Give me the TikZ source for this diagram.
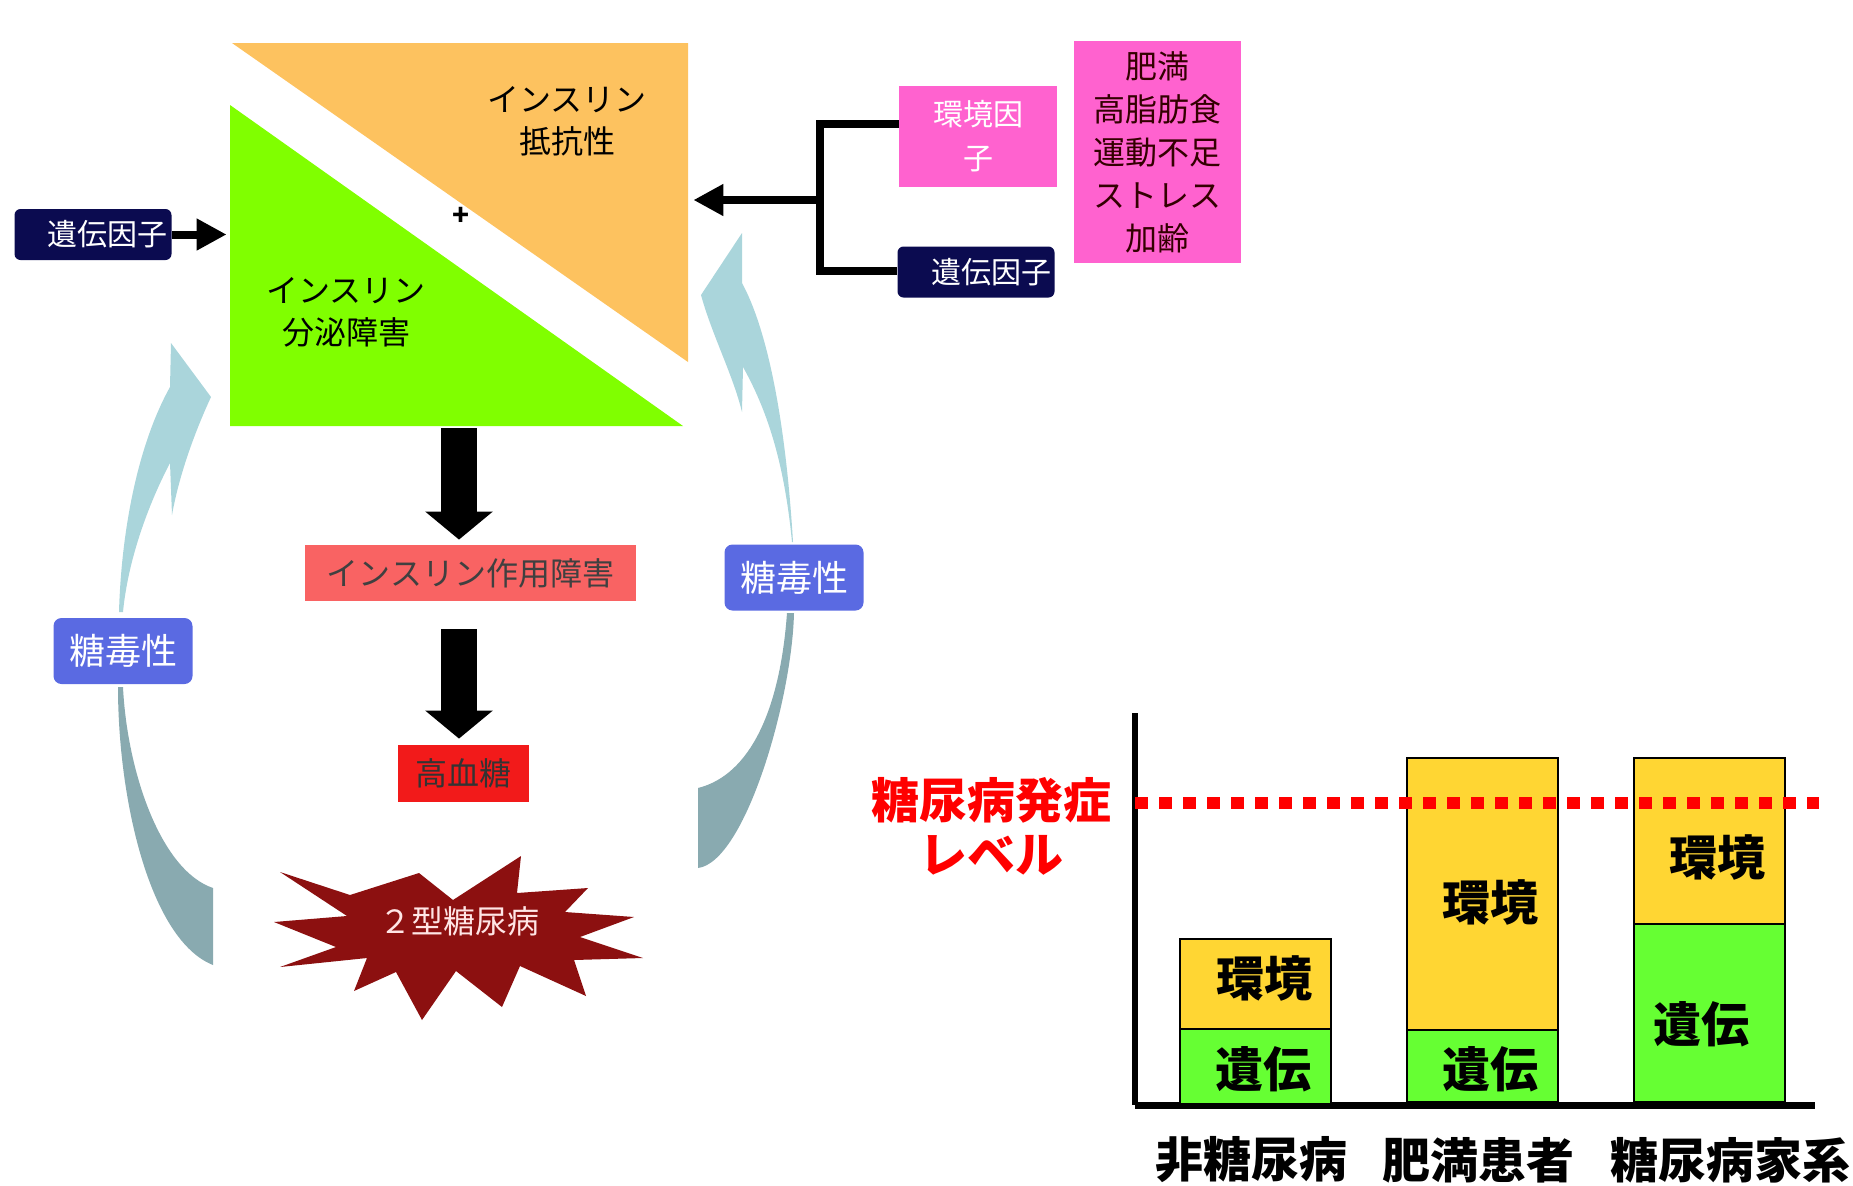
\documentclass[tikz,border=0pt]{standalone}
\usepackage{fontspec}
\setmainfont{Noto Sans CJK JP}
\usetikzlibrary{arrows.meta}

\definecolor{resist}{HTML}{fdc25f}
\definecolor{secrete}{HTML}{80ff00}
\definecolor{gene-navy}{HTML}{0b0b50}
\definecolor{factor-pink}{HTML}{ff62cf}
\definecolor{action-red}{HTML}{f96363}
\definecolor{glucose-red}{HTML}{f21a1a}
\definecolor{burst-red}{HTML}{8c1010}
\definecolor{toxic-blue}{HTML}{5a6ae2}
\definecolor{swirl-light}{HTML}{aad5db}
\definecolor{swirl-dark}{HTML}{89aab0}
\definecolor{bar-env}{HTML}{ffd633}
\definecolor{bar-gene}{HTML}{66ff33}

\tikzstyle{plain-text}=[inner sep=0pt, align=center, font=\fontsize{16pt}{21pt}\selectfont]
\tikzstyle{gene-box}=[fill=gene-navy, rounded corners=3pt, minimum width=78.5pt, minimum height=25.5pt, inner sep=0pt]
\tikzstyle{toxic-box}=[fill=toxic-blue, rounded corners=4pt, minimum width=69.5pt, minimum height=33pt, inner sep=0pt]
\tikzstyle{link}=[line width=4pt]
\tikzstyle{link-tip}=[link, -{Triangle[width=15pt,length=15pt]}]
\tikzstyle{fat-arrow}=[line width=18pt, -{Triangle[width=33pt,length=14pt]}]
\tikzstyle{bar}=[draw=black, line width=1pt, minimum width=75.5pt, inner sep=0pt]
\tikzstyle{bar-text}=[inner sep=0pt, font=\fontsize{24pt}{24pt}\selectfont\bfseries]

\begin{document}
\begin{tikzpicture}[x=0.5pt, y=-0.5pt]
      \useasboundingbox (0,0) rectangle (1853,1185);

      % swirling arrows
      \fill[swirl-light] (171,343) -- (211,397) .. controls (198,425) and (180,470) .. (172,515)
            -- (170,463) .. controls (148,505) and (128,560) .. (123,612) -- (119,612)
            .. controls (121,540) and (135,450) .. (170,387) -- cycle;
      \fill[swirl-dark] (118,687) -- (123,687) .. controls (127,770) and (160,870) .. (213,888)
            -- (213,965) .. controls (150,940) and (118,800) .. (118,687) -- cycle;
      \fill[swirl-light] (742,233) -- (742,283) .. controls (765,325) and (785,410) .. (793,542)
            -- (792,542) .. controls (785,470) and (770,415) .. (743,367) -- (742,412)
            .. controls (733,375) and (712,335) .. (701,295) -- cycle;
      \fill[swirl-dark] (787,613) -- (794,613) .. controls (792,700) and (745,862) .. (698,868)
            -- (698,788) .. controls (750,775) and (780,710) .. (787,613) -- cycle;

      % the square
      \node (square) at (459,234.5) [inner sep=0pt, minimum width=229pt, minimum height=191.5pt] {};
      \fill[resist] (232,43) -- (688,43) -- (688,362) -- cycle;
      \fill[secrete] (230,105) -- (683,426) -- (230,426) -- cycle;
      \node (resist-text) at (567,121) [plain-text] {インスリン\\抵抗性};
      \node (secrete-text) at (346,312) [plain-text] {インスリン\\分泌障害};
      \node (plus) at (461,216) [inner sep=0pt, font=\fontsize{14pt}{14pt}\selectfont\bfseries] {+};

      % boxes
      \node (gene-left) at (93,234.5) [gene-box, text=white, font=\fontsize{15pt}{15pt}\selectfont, text width=74pt, align=right] {遺伝因子};
      \node (gene-right) at (976,272) [gene-box, text=white, font=\fontsize{15pt}{15pt}\selectfont, text width=75pt, align=right] {遺伝因子};
      \node (env) at (978,136.5) [fill=factor-pink, text=white, minimum width=79pt, minimum height=50.5pt,
            inner sep=0pt, align=center, font=\fontsize{15pt}{22pt}\selectfont] {環境因\\子};
      \node (causes) at (1157.5,152) [fill=factor-pink, text=black!80!red, minimum width=83.5pt, minimum height=111pt,
            inner sep=0pt, align=center, font=\fontsize{16pt}{21.5pt}\selectfont] {肥満\\高脂肪食\\運動不足\\ストレス\\加齢};
      \node (action) at (470.5,573) [fill=action-red, minimum width=165.5pt, minimum height=28pt, inner sep=0pt,
            text=black!75, font=\fontsize{16pt}{16pt}\selectfont] {インスリン作用障害};
      \node (glucose) at (463.5,773.5) [fill=glucose-red, minimum width=65.5pt, minimum height=28.5pt, inner sep=0pt,
            text=black!80, font=\fontsize{16pt}{16pt}\selectfont] {高血糖};
      \node (toxic-left) at (123,651) [toxic-box, text=white, font=\fontsize{18pt}{18pt}\selectfont] {糖毒性};
      \node (toxic-right) at (794,577.5) [toxic-box, text=white, font=\fontsize{18pt}{18pt}\selectfont] {糖毒性};

      % the burst
      \fill[burst-red] (280,872) -- (350,895) -- (419,873) -- (453,900) -- (521,856) -- (517,893)
            -- (588,888) -- (565,912) -- (634,917) -- (580,937) -- (643,958) -- (574,960)
            -- (586,996) -- (520,966) -- (502,1007) -- (456,971) -- (422,1020) -- (396,972)
            -- (354,991) -- (367,958) -- (280,967) -- (336,947) -- (274,922) -- (347,916) -- cycle;
      \node (burst) at (459,921) [plain-text, text=white!90!red] {２型糖尿病};

      % connectors
      \coordinate (junction) at (820,200);
      \coordinate (env-port) at (899,124);
      \coordinate (gene-port) at (897,271);
      \draw[link] (env-port) -| (junction);
      \draw[link] (gene-port) -| (junction);
      \draw[link-tip, shorten >=2.5pt] (junction) -- (junction -| square.east);
      \draw[link-tip, shorten >=1.5pt] (gene-left.east) -- (square.west |- gene-left.east);
      \draw[fat-arrow, shorten <=1pt, shorten >=2.5pt] (square.south) -- (square.south |- action.north);
      \draw[fat-arrow, shorten <=14pt, shorten >=3pt] (square.south |- action.south) -- (square.south |- glucose.north);

      % axes
      \coordinate (origin) at (1135,1105);
      \coordinate (axis-top) at (1135,713);
      \coordinate (axis-end) at (1815,1105);
      \draw[line width=3.5pt] (origin) -- (axis-end);
      \draw[line width=3pt] (origin) -- (axis-top);

      % bars
      \node (bar1-env) at (1255.5,984) [bar, fill=bar-env, minimum height=45pt] {};
      \node (bar1-gene) at (1255.5,1066.5) [bar, fill=bar-gene, minimum height=37.5pt] {};
      \node (bar2-env) at (1482.5,894) [bar, fill=bar-env, minimum height=136pt] {};
      \node (bar2-gene) at (1482.5,1066) [bar, fill=bar-gene, minimum height=36pt] {};
      \node (bar3-env) at (1709.5,841) [bar, fill=bar-env, minimum height=83pt] {};
      \node (bar3-gene) at (1709.5,1013) [bar, fill=bar-gene, minimum height=89pt] {};

      \node (env1-text) at (1264,978) [bar-text] {環境};
      \node (env2-text) at (1490,902) [bar-text] {環境};
      \node (env3-text) at (1717,857) [bar-text] {環境};
      \node (gene1-text) at (1263,1069) [bar-text] {遺伝};
      \node (gene2-text) at (1490,1069) [bar-text] {遺伝};
      \node (gene3-text) at (1701,1024) [bar-text] {遺伝};

      % onset level
      \coordinate (level-start) at (1135,803);
      \coordinate (level-end) at (1819,803);
      \draw[red, line width=6pt, dash pattern=on 6.5pt off 5.5pt] (level-start) -- (level-end);
      \node (level-text) at (991,826) [inner sep=0pt, align=center, text=red,
            font=\fontsize{24pt}{27pt}\selectfont\bfseries] {糖尿病発症\\レベル};

      \node (label1) at (1251,1160) [bar-text] {非糖尿病};
      \node (label2) at (1478,1160) [bar-text] {肥満患者};
      \node (label3) at (1730,1160) [bar-text] {糖尿病家系};
    \end{tikzpicture}
\end{document}
